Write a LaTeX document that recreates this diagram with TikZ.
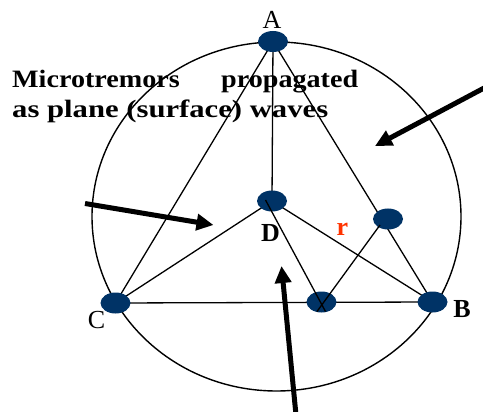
\documentclass[tikz,border=0pt]{standalone}
\usepackage{fontspec}
\setmainfont{Liberation Serif}
\usetikzlibrary{arrows.meta,shapes.geometric}
\definecolor{dotblue}{RGB}{0,51,102}
\definecolor{rred}{RGB}{255,51,0}
\pgfdeclarelayer{bg}
\pgfsetlayers{bg,main}
\begin{document}
\begin{tikzpicture}[x=1pt,y=-1pt,
  dot/.style={ellipse, fill=dotblue, minimum width=30pt, minimum height=21pt, inner sep=0pt},
  edge/.style={line width=1.3pt},
  bigarrow/.style={line width=5pt, -{Triangle[length=17pt,width=16pt]}},
  labr/.style={font=\fontsize{26}{30}\selectfont, inner sep=0pt, anchor=base},
  labb/.style={font=\bfseries\fontsize{26}{30}\selectfont, inner sep=0pt, anchor=base},
  txt/.style={font=\bfseries\fontsize{25}{30}\selectfont, inner sep=0pt, anchor=base west}]
\useasboundingbox (0,0) rectangle (483,412);

% dots
\node[dot] (A) at (273,41.5) {};
\node[dot] (D) at (272,201) {};
\node[dot] (E) at (388,219) {};
\node[dot] (X) at (321.5,302) {};
\node[dot] (B) at (432.5,302) {};
\node[dot] (C) at (115.5,303) {};

% background, circle and main lines (behind dots)
\begin{pgfonlayer}{bg}
\fill[white] (0,0) rectangle (483,412);
\draw[line width=1.4pt] (276.5,216.5) ellipse [x radius=184.5pt, y radius=174.5pt];
\draw[edge] (A.center) -- (C.center);
\draw[edge] (A.center) -- (B.center);
\draw[edge] (A.center) -- (D.center);
\draw[edge] (C.center) -- (B.center);
\draw[edge] (C.center) -- (D.center);
\draw[edge] (D.center) -- (B.center);
\end{pgfonlayer}

% crossing lines over X
\coordinate (d1) at (265.5,200);
\coordinate (x1) at (325.5,311.5);
\coordinate (e1) at (380,225);
\coordinate (x2) at (317,311.5);
\draw[edge] (d1) -- (x1);
\draw[edge] (e1) -- (x2);

% big arrows
\coordinate (t1) at (486,87);
\coordinate (h1) at (375,146);
\coordinate (t2) at (85,203.5);
\coordinate (h2) at (213.5,225);
\coordinate (t3) at (296,415);
\coordinate (h3) at (281.5,266);
\draw[bigarrow] (t1) -- (h1);
\draw[bigarrow] (t2) -- (h2);
\draw[bigarrow] (t3) -- (h3);

% labels
\node[labr] (lA) at (272,29) {A};
\node[labb] (lB) at (462,317) {B};
\node[labr] (lC) at (96.5,328) {C};
\node[labb] (lD) at (270.5,242) {D};
\node[labb, text=rred] (lr) at (342.5,235.5) {r};

% text
\node[txt] (line1) at (12,88) {\resizebox{346pt}{\height}{Microtremors\hspace{36.8pt}propagated}};
\node[txt] (line2) at (12,117.5) {\resizebox{316pt}{\height}{as plane (surface) waves}};
\end{tikzpicture}
\end{document}
